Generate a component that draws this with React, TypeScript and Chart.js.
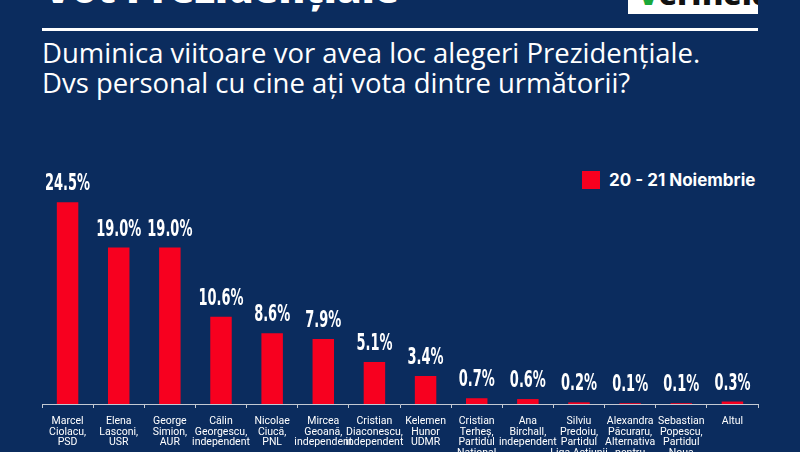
import React, { useEffect, useRef } from "react";
import { Chart, registerables } from "chart.js";

Chart.register(...registerables);

const categories: string[][] = [
  ["Marcel", "Ciolacu,", "PSD"],
  ["Elena", "Lasconi,", "USR"],
  ["George", "Simion,", "AUR"],
  ["Călin", "Georgescu,", "independent"],
  ["Nicolae", "Ciucă,", "PNL"],
  ["Mircea", "Geoană,", "independent"],
  ["Cristian", "Diaconescu,", "independent"],
  ["Kelemen", "Hunor", "UDMR"],
  ["Cristian", "Terheș,", "Partidul", "National", "Conservator", "Român"],
  ["Ana", "Birchall,", "independent"],
  ["Silviu", "Predoiu,", "Partidul", "Liga Actiunii", "Naționale"],
  ["Alexandra", "Păcuraru,", "Alternativa", "pentru", "Demnitate", "Națională"],
  ["Sebastian", "Popescu,", "Partidul", "Noua", "Românie"],
  ["Altul"],
];

const seriesName = "20 - 21 Noiembrie";
const values: number[] = [24.5, 19.0, 19.0, 10.6, 8.6, 7.9, 5.1, 3.4, 0.7, 0.6, 0.2, 0.1, 0.1, 0.3];

const titleText = "Vot Prezidențiale";
const subtitleLines = [
  "Duminica viitoare vor avea loc alegeri Prezidențiale.",
  "Dvs personal cu cine ați vota dintre următorii?",
];

const BG = "#0b2c5e";
const RED = "#f7001f";

const valueLabelPlugin = {
  id: "valueLabels",
  afterDatasetsDraw(chart: any) {
    const ctx = chart.ctx;
    const meta = chart.getDatasetMeta(0);
    ctx.save();
    ctx.fillStyle = "#ffffff";
    ctx.textAlign = "center";
    ctx.textBaseline = "alphabetic";
    ctx.font = "bold 19px 'DejaVu Sans Condensed', 'DejaVu Sans', sans-serif";
    meta.data.forEach((bar: any, i: number) => {
      const v = chart.data.datasets[0].data[i] as number;
      const txt = v.toFixed(1) + "%";
      ctx.save();
      ctx.translate(bar.x, bar.y - 12);
      ctx.scale(0.76, 1.19);
      ctx.fillText(txt, 0, 0);
      ctx.restore();
    });
    ctx.restore();
  },
};

export default function App() {
  const canvasRef = useRef<HTMLCanvasElement | null>(null);

  useEffect(() => {
    document.body.style.margin = "0";
    const canvas = canvasRef.current;
    if (!canvas) return;
    const chart = new Chart(canvas, {
      type: "bar",
      data: {
        labels: categories,
        datasets: [
          {
            label: seriesName,
            data: values,
            backgroundColor: RED,
            borderWidth: 0,
            barPercentage: 0.42,
            categoryPercentage: 1,
          },
        ],
      },
      options: {
        animation: false,
        responsive: false,
        maintainAspectRatio: false,
        layout: { padding: { left: 42, right: 42, top: 157, bottom: 0 } },
        plugins: {
          legend: { display: false },
          tooltip: { enabled: false },
        },
        scales: {
          x: {
            offset: true,
            afterFit: (scale: any) => {
              scale.height = 48;
            },
            border: { display: true, color: "#c3c9d3", width: 1 },
            grid: {
              offset: true,
              drawOnChartArea: false,
              drawTicks: true,
              tickLength: 4,
              color: "#c3c9d3",
            },
            ticks: {
              color: "#ffffff",
              padding: 8,
              maxRotation: 0,
              autoSkip: false,
              font: { family: "Roboto, 'Noto Sans', sans-serif", size: 10.5, lineHeight: 1.02 },
            },
          },
          y: {
            display: false,
            min: 0,
            max: 30,
          },
        },
      },
      plugins: [valueLabelPlugin],
    });
    return () => chart.destroy();
  }, []);

  return (
    <div
      style={{
        position: "fixed",
        left: 0,
        top: 0,
        width: 800,
        height: 452,
        background: BG,
        overflow: "hidden",
        fontFamily: "'Open Sans', sans-serif",
      }}
    >
      <div
        style={{
          position: "absolute",
          left: 44,
          top: -34,
          fontSize: 40,
          fontWeight: 800,
          color: "#fff",
          fontFamily: "'Open Sans', sans-serif",
          whiteSpace: "nowrap",
          lineHeight: "44px",
        }}
      >
        {titleText}
      </div>
      <div
        style={{
          position: "absolute",
          left: 628,
          top: 0,
          width: 130,
          height: 14,
          background: "#fff",
          overflow: "hidden",
        }}
      >
        <div
          style={{
            position: "absolute",
            left: 10,
            top: -22,
            fontSize: 30,
            fontWeight: 800,
            lineHeight: "32px",
            color: "#111",
            fontFamily: "'Open Sans', sans-serif",
            whiteSpace: "nowrap",
          }}
        >
          <span style={{ color: "#1aa839" }}>V</span>erifield
        </div>
      </div>
      <div
        style={{
          position: "absolute",
          left: 42,
          top: 28,
          width: 716,
          height: 3,
          background: "#fff",
        }}
      />
      <div
        style={{
          position: "absolute",
          left: 42,
          top: 38,
          fontSize: 27.5,
          lineHeight: "30px",
          color: "#fff",
          whiteSpace: "nowrap",
          fontFamily: "'Open Sans', sans-serif",
        }}
      >
        {subtitleLines.map((l, i) => (
          <div key={i}>{l}</div>
        ))}
      </div>
      <div
        style={{
          position: "absolute",
          left: 582,
          top: 171,
          display: "flex",
          alignItems: "center",
          whiteSpace: "nowrap",
        }}
      >
        <div style={{ width: 18, height: 18, background: RED, marginRight: 9 }} />
        <div
          style={{
            color: "#fff",
            fontWeight: 700,
            fontSize: 17,
            fontFamily: "Inter, Roboto, sans-serif",
            lineHeight: "18px",
          }}
        >
          {seriesName}
        </div>
      </div>
      <canvas
        ref={canvasRef}
        width={800}
        height={452}
        style={{ position: "absolute", left: 0, top: 0, width: 800, height: 452 }}
      />
    </div>
  );
}
